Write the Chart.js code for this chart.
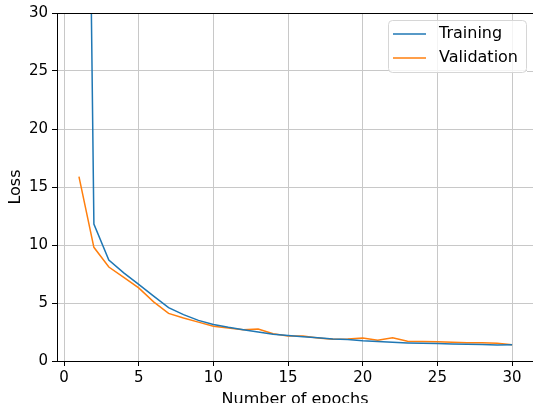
<!DOCTYPE html>
<html>
<head>
<meta charset="utf-8">
<script src="https://cdn.jsdelivr.net/npm/chart.js@4"></script>
<style>
  html, body { margin: 0; padding: 0; background: #fff; }
  canvas { display: block; }
</style>
</head>
<body>
<canvas id="lossChart" width="533" height="403"></canvas>
<script>
// epochs 1..30
const epochs = Array.from({length: 30}, (_, i) => i + 1);
const trainingLoss = [120, 11.8, 8.7, 7.6, 6.6, 5.6, 4.6, 4.0, 3.5, 3.15,
                      2.9, 2.7, 2.5, 2.3, 2.2, 2.1, 2.0, 1.9, 1.85, 1.75,
                      1.68, 1.62, 1.56, 1.52, 1.5, 1.47, 1.45, 1.42, 1.38, 1.4];
const validationLoss = [15.9, 9.8, 8.1, 7.2, 6.3, 5.1, 4.1, 3.7, 3.35, 3.0,
                        2.85, 2.7, 2.75, 2.35, 2.15, 2.15, 1.98, 1.88, 1.9, 1.98,
                        1.8, 2.0, 1.7, 1.68, 1.65, 1.62, 1.58, 1.57, 1.52, 1.4];
const seriesLabels = ['Training', 'Validation'];
const xTicks = [0, 5, 10, 15, 20, 25, 30];
const yTicks = [0, 5, 10, 15, 20, 25, 30];
const xTitle = 'Number of epochs';
const yTitle = 'Loss';

const FONT = 'DejaVu Sans';
const GRID = '#c8c8c8';
const toPoints = (vals) => vals.map((v, i) => ({x: epochs[i], y: v}));

// top spine, clean right edge (no right spine), legend box inside the plot
const frameAndLegend = {
    id: 'frameAndLegend',
    afterDraw(chart) {
        const ctx = chart.ctx;
        const area = chart.chartArea;
        const ys = chart.scales.y;
        ctx.save();

        // wipe the right edge strip and put the horizontal grid back
        ctx.fillStyle = '#fff';
        ctx.fillRect(527, area.top + 1, chart.width - 527, area.bottom - area.top - 2);
        ctx.strokeStyle = GRID;
        ctx.lineWidth = 1;
        ys.ticks.forEach(t => {
            if (t.value <= ys.min || t.value >= ys.max) return;
            const py = Math.round(ys.getPixelForValue(t.value)) + 0.5;
            ctx.beginPath();
            ctx.moveTo(527, py);
            ctx.lineTo(chart.width, py);
            ctx.stroke();
        });

        ctx.strokeStyle = '#000';
        ctx.beginPath();
        ctx.moveTo(area.left, area.top + 0.5);
        ctx.lineTo(chart.width, area.top + 0.5);
        ctx.stroke();

        // legend
        const x0 = 388.5, y0 = 20.5, w = 138, h = 52, r = 4;
        ctx.fillStyle = 'rgba(255,255,255,0.8)';
        ctx.strokeStyle = '#d6d6d6';
        ctx.beginPath();
        ctx.roundRect(x0, y0, w, h, r);
        ctx.fill();
        ctx.stroke();
        ctx.font = '16px "' + FONT + '"';
        ctx.textBaseline = 'middle';
        ctx.fillStyle = '#000';
        chart.data.datasets.forEach((ds, i) => {
            const y = 34 + i * 24;
            ctx.strokeStyle = ds.borderColor;
            ctx.lineWidth = 1.5;
            ctx.beginPath();
            ctx.moveTo(393, y);
            ctx.lineTo(426, y);
            ctx.stroke();
            ctx.fillText(ds.label, 439, y);
        });
        ctx.restore();
    }
};

new Chart(document.getElementById('lossChart').getContext('2d'), {
    type: 'line',
    data: {
        datasets: [
            {
                label: seriesLabels[0],
                data: toPoints(trainingLoss),
                borderColor: '#1f77b4',
                borderWidth: 1.5,
                pointRadius: 0,
                tension: 0
            },
            {
                label: seriesLabels[1],
                data: toPoints(validationLoss),
                borderColor: '#ff7f0e',
                borderWidth: 1.5,
                pointRadius: 0,
                tension: 0
            }
        ]
    },
    options: {
        responsive: false,
        animation: false,
        layout: { padding: { top: 13, right: 0, bottom: 0, left: 0 } },
        plugins: {
            legend: { display: false },
            tooltip: { enabled: false }
        },
        scales: {
            x: {
                type: 'linear',
                min: -0.47,
                max: 31.4,
                afterBuildTicks(scale) { scale.ticks = xTicks.map(v => ({value: v})); },
                afterFit(scale) { scale.height = 42; },
                ticks: {
                    color: '#000',
                    padding: 3,
                    maxRotation: 0,
                    autoSkip: false,
                    font: { family: FONT, size: 15 }
                },
                grid: { color: GRID, tickColor: '#000', tickLength: 5, lineWidth: 1 },
                border: { color: '#000', width: 1 },
                title: {
                    display: true,
                    text: xTitle,
                    color: '#000',
                    padding: { top: 0, bottom: -6 },
                    font: { family: FONT, size: 16 }
                }
            },
            y: {
                min: 0,
                max: 30,
                afterBuildTicks(scale) { scale.ticks = yTicks.map(v => ({value: v})); },
                afterFit(scale) { scale.width = 57; },
                ticks: {
                    color: '#000',
                    padding: 4,
                    autoSkip: false,
                    font: { family: FONT, size: 15 }
                },
                grid: { color: GRID, tickColor: '#000', tickLength: 5, lineWidth: 1 },
                border: { color: '#000', width: 1 },
                title: {
                    display: true,
                    text: yTitle,
                    color: '#000',
                    padding: { top: 6, bottom: 0 },
                    font: { family: FONT, size: 16 }
                }
            }
        }
    },
    plugins: [frameAndLegend]
});
</script>
</body>
</html>
